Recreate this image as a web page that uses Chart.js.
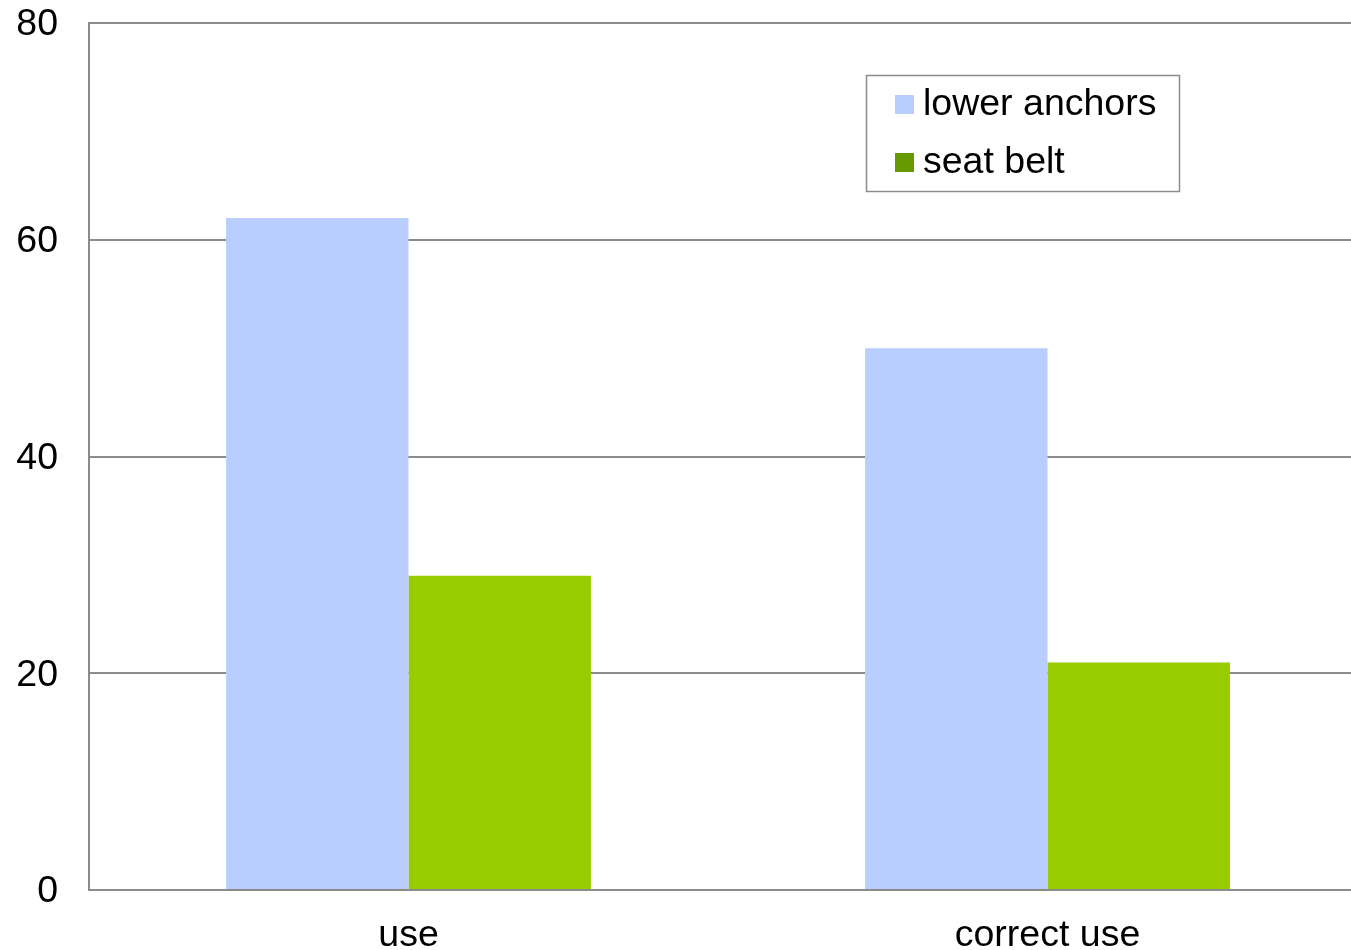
<!DOCTYPE html>
<html>
<head>
<meta charset="utf-8">
<script src="https://cdn.jsdelivr.net/npm/chart.js@4/dist/chart.umd.min.js"></script>
<style>
  html, body { margin: 0; padding: 0; background: #fff; overflow: hidden; }
  #wrap { position: absolute; left: 0; top: 0; }
</style>
</head>
<body>
<div id="wrap"><canvas id="c" width="1368" height="950"></canvas></div>
<script>
// Categories and series
const categories = ['use', 'correct use'];
const seriesNames = ['lower anchors', 'seat belt'];
const lowerAnchors = [62, 50];
const seatBelt = [29, 21];
const yTicks = [0, 20, 40, 60, 80];

const barColors = ['#B9CEFE', '#99CC00'];
const legendColors = ['#B9CEFE', '#669900'];
const FONT = '"Liberation Sans", Arial, sans-serif';
const FONT_SIZE = 37.5;

// Boxed legend drawn inside the plot area
const boxedLegend = {
  id: 'boxedLegend',
  afterDraw(chart) {
    const ctx = chart.ctx;
    const x = 866.5, y = 75.5, w = 313, h = 116;
    ctx.save();
    ctx.fillStyle = '#fff';
    ctx.fillRect(x, y, w, h);
    ctx.strokeStyle = '#8c8c8c';
    ctx.lineWidth = 1.5;
    ctx.strokeRect(x, y, w, h);
    ctx.font = FONT_SIZE + 'px ' + FONT;
    ctx.textBaseline = 'middle';
    chart.data.datasets.forEach((ds, i) => {
      const cy = 104 + i * 58;
      ctx.fillStyle = legendColors[i];
      ctx.fillRect(895, cy - 9, 19, 19);
      ctx.fillStyle = '#000';
      ctx.fillText(ds.label, 923, cy + 1);
    });
    ctx.restore();
  }
};

new Chart(document.getElementById('c'), {
  type: 'bar',
  data: {
    labels: categories,
    datasets: [
      { label: seriesNames[0], data: lowerAnchors, backgroundColor: barColors[0] },
      { label: seriesNames[1], data: seatBelt, backgroundColor: barColors[1] }
    ]
  },
  options: {
    responsive: false,
    animation: false,
    layout: { padding: { top: 23, right: 1, left: 0, bottom: 0 } },
    datasets: { bar: { barPercentage: 1.0, categoryPercentage: 0.571 } },
    plugins: {
      legend: { display: false },
      tooltip: { enabled: false }
    },
    scales: {
      x: {
        grid: { display: false, drawTicks: false },
        border: { display: true, color: '#8c8c8c', width: 2 },
        ticks: { color: '#000', font: { family: FONT, size: FONT_SIZE }, padding: 23, maxRotation: 0 },
        afterFit(scale) { scale.height = 60; scale.paddingLeft = 0; scale.paddingRight = 0; }
      },
      y: {
        min: 0, max: 80,
        afterBuildTicks(scale) { scale.ticks = yTicks.map(v => ({ value: v })); },
        grid: { color: '#8c8c8c', lineWidth: 2, drawTicks: false },
        border: { display: true, color: '#8c8c8c', width: 2 },
        ticks: { color: '#000', font: { family: FONT, size: FONT_SIZE }, padding: 31, labelOffset: 2 },
        afterFit(scale) { scale.width = 89; scale.paddingTop = 0; scale.paddingBottom = 0; }
      }
    }
  },
  plugins: [boxedLegend]
});
</script>
</body>
</html>
